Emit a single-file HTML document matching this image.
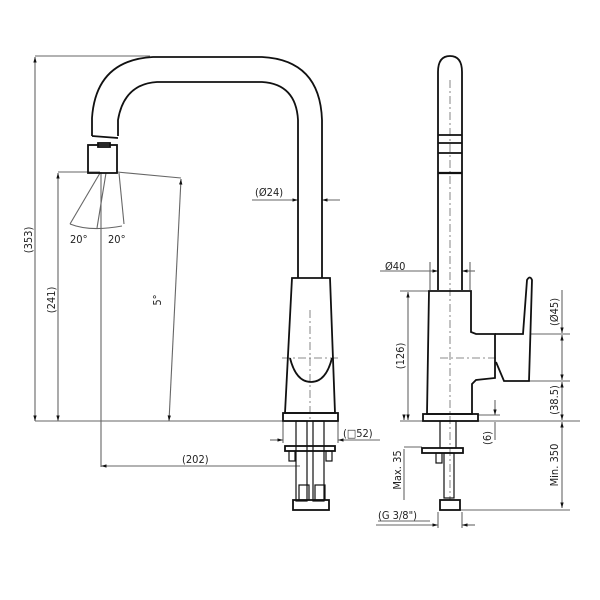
<!DOCTYPE html>
<html><head><meta charset="utf-8"><style>
html,body{margin:0;padding:0;background:#fff}
svg{display:block}
text{font-family:"DejaVu Sans Condensed","Liberation Sans",sans-serif;font-size:11px;fill:#222}
</style></head><body>
<svg width="600" height="600" viewBox="0 0 600 600" xmlns="http://www.w3.org/2000/svg">
<defs>
<marker id="a" viewBox="0 0 10 10" refX="10" refY="5" markerWidth="7" markerHeight="5" orient="auto-start-reverse"><path d="M0,2 L10,5 L0,8z" fill="#111"/></marker>
</defs>
<g fill="none" stroke="#666" stroke-width="1.1">
<line x1="35" y1="56" x2="150" y2="56"/>
<line x1="35" y1="57" x2="35" y2="421" marker-start="url(#a)" marker-end="url(#a)"/>
<line x1="58" y1="172" x2="100" y2="172"/>
<line x1="58" y1="173" x2="58" y2="421" marker-start="url(#a)" marker-end="url(#a)"/>
<line x1="35" y1="421" x2="300" y2="421"/>
<line x1="117" y1="172" x2="181" y2="178"/>
<line x1="181" y1="179" x2="169" y2="421" marker-start="url(#a)" marker-end="url(#a)"/>
<line x1="101" y1="172" x2="101" y2="467"/>
<line x1="101" y1="466" x2="300" y2="466" marker-start="url(#a)"/>
<line x1="252" y1="200" x2="298" y2="200" marker-end="url(#a)"/>
<line x1="340" y1="200" x2="322" y2="200" marker-end="url(#a)"/>
<line x1="283" y1="422" x2="283" y2="443"/><line x1="338" y1="422" x2="338" y2="443"/>
<line x1="270" y1="440" x2="283" y2="440" marker-end="url(#a)"/>
<line x1="380" y1="440" x2="338" y2="440" marker-end="url(#a)"/>
<line x1="270" y1="466" x2="300" y2="466"/>
<line x1="100" y1="173" x2="70" y2="224"/><line x1="119" y1="173" x2="124" y2="224"/>
<line x1="106" y1="173" x2="97" y2="228"/>
<path d="M70,224 Q90,232 122,226"/>
<line x1="430" y1="262" x2="430" y2="290"/><line x1="470" y1="262" x2="470" y2="290"/>
<line x1="380" y1="271" x2="438" y2="271" marker-end="url(#a)"/>
<line x1="475" y1="271" x2="462" y2="271" marker-end="url(#a)"/>
<line x1="400" y1="291" x2="430" y2="291"/>
<line x1="408" y1="292" x2="408" y2="420" marker-start="url(#a)" marker-end="url(#a)"/>
<line x1="400" y1="421" x2="580" y2="421"/>
<line x1="531" y1="334" x2="570" y2="334"/><line x1="529" y1="381" x2="570" y2="381"/>
<line x1="562" y1="290" x2="562" y2="333" marker-end="url(#a)"/>
<line x1="562" y1="335" x2="562" y2="380" marker-start="url(#a)" marker-end="url(#a)"/>
<line x1="562" y1="382" x2="562" y2="420" marker-start="url(#a)" marker-end="url(#a)"/>
<line x1="562" y1="422" x2="562" y2="508" marker-start="url(#a)" marker-end="url(#a)"/>
<line x1="458" y1="510" x2="570" y2="510"/>
<line x1="495" y1="400" x2="495" y2="415" marker-end="url(#a)"/>
<line x1="495" y1="440" x2="495" y2="422"/>
<line x1="478" y1="415" x2="500" y2="415"/>
<line x1="404" y1="415" x2="404" y2="420" marker-end="url(#a)"/>
<line x1="404" y1="449" x2="404" y2="500"/>
<line x1="404" y1="447" x2="422" y2="447"/>
<line x1="376" y1="525" x2="438" y2="525" marker-end="url(#a)"/>
<line x1="475" y1="525" x2="462" y2="525" marker-end="url(#a)"/>
<line x1="438" y1="512" x2="438" y2="528"/><line x1="462" y1="512" x2="462" y2="528"/>
<line x1="378" y1="521" x2="430" y2="521"/>
</g>
<g stroke="#666" stroke-width="0.8" stroke-dasharray="8,3,2,3" fill="none">
<line x1="450" y1="80" x2="450" y2="500"/>
<line x1="310" y1="310" x2="310" y2="420"/>
<line x1="282" y1="358" x2="340" y2="358"/>
<line x1="440" y1="358" x2="497" y2="358"/>
</g>
<g fill="none" stroke="#111" stroke-width="1.8">
<path d="M92,136 L92,118 Q96,60 153,57 L262,57 Q320,60 322,120 L322,278"/>
<path d="M118,136 L118,120 Q124,84 157,82 L262,82 Q296,84 298,120 L298,278"/>
<line x1="92" y1="136" x2="118" y2="138"/>
<rect x="88" y="145" width="29" height="28"/>
<rect x="98" y="143" width="12" height="4"/>
<path d="M292,278 L330,278 L335,413 L285,413 Z"/>
<path d="M290,358 Q296,382 311,382 Q326,382 332,358"/>
<rect x="283" y="413" width="55" height="8"/>
<rect x="296" y="421" width="11" height="80" stroke-width="1.2"/>
<rect x="313" y="421" width="11" height="80" stroke-width="1.2"/>
<rect x="285" y="446" width="50" height="5"/>
<rect x="289" y="451" width="6" height="10" stroke-width="1.2"/><rect x="326" y="451" width="6" height="10" stroke-width="1.2"/>
<rect x="299" y="485" width="10" height="15" stroke-width="1.2"/><rect x="315" y="485" width="10" height="15" stroke-width="1.2"/>
<rect x="293" y="500" width="36" height="10"/>
<path d="M438,290 L438,72 Q438,56 450,56 Q462,56 462,72 L462,290"/>
<line x1="438" y1="135" x2="462" y2="135"/><line x1="438" y1="143" x2="462" y2="143"/>
<line x1="438" y1="153" x2="462" y2="153"/><line x1="438" y1="173" x2="462" y2="173" stroke-width="2.2"/>
<path d="M429,291 L471,291 L471,332 L476,334 L495,334 L495,378 L476,380 L472,384 L472,414 L427,414 Z"/>
<path d="M495,334 L523,334 L527,280 Q530,275 532,280 L529,381 L504,381 L496,362"/>
<rect x="423" y="414" width="55" height="7"/>
<rect x="440" y="421" width="16" height="27" stroke-width="1.2"/>
<rect x="422" y="448" width="41" height="5"/>
<rect x="436" y="453" width="6" height="10" stroke-width="1.2"/>
<rect x="444" y="453" width="10" height="45" stroke-width="1.2"/>
<rect x="440" y="500" width="20" height="10"/>
</g>
<text transform="translate(32,240) rotate(-90)" text-anchor="middle">(353)</text>
<text transform="translate(55,300) rotate(-90)" text-anchor="middle">(241)</text>
<text transform="translate(161,300) rotate(-90)" text-anchor="middle">5°</text>
<text x="70" y="243">20°</text><text x="108" y="243">20°</text>
<text x="255" y="196">(Ø24)</text>
<text x="343" y="437">(□52)</text>
<text x="182" y="463">(202)</text>
<text x="385" y="270">Ø40</text>
<text transform="translate(404,356) rotate(-90)" text-anchor="middle">(126)</text>
<text transform="translate(558,312) rotate(-90)" text-anchor="middle">(Ø45)</text>
<text transform="translate(558,400) rotate(-90)" text-anchor="middle">(38.5)</text>
<text transform="translate(558,465) rotate(-90)" text-anchor="middle">Min. 350</text>
<text transform="translate(491,438) rotate(-90)" text-anchor="middle">(6)</text>
<text transform="translate(401,470) rotate(-90)" text-anchor="middle">Max. 35</text>
<text x="378" y="519">(G 3/8")</text>
</svg>
</body></html>
